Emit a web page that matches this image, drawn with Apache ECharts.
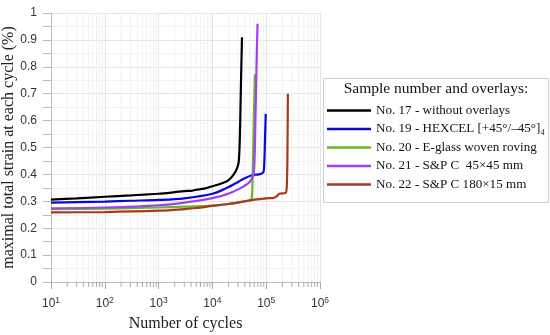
<!DOCTYPE html>
<html>
<head>
<meta charset="utf-8">
<script src="https://cdn.jsdelivr.net/npm/echarts@6/dist/echarts.min.js"></script>
<style>html,body{margin:0;padding:0;background:#fff}#c{width:550px;height:335px}</style>
</head>
<body>
<div id="c"></div>
<script>
// ---- data ----
const seriesNames = [
  'No. 17 - without overlays',
  'No. 19 - HEXCEL [+45°/\u201345°]',
  'No. 20 - E-glass woven roving',
  'No. 21 - S&P C  45\u00d745 mm',
  'No. 22 - S&P C 180\u00d715 mm'
];
const cycles17 = [10, 30, 100, 300, 1000, 2000, 3000, 4000, 5000, 7000, 10000, 16000, 20000, 25000, 29000, 31000, 32500, 33500, 34500, 35500];
const strain17 = [0.306, 0.311, 0.317, 0.322, 0.328, 0.334, 0.338, 0.339, 0.343, 0.347, 0.356, 0.369, 0.379, 0.400, 0.425, 0.450, 0.550, 0.680, 0.800, 0.910];
const cycles19 = [10, 30, 100, 300, 1000, 3000, 10000, 19000, 30000, 38000, 56000, 73000, 88000, 92000, 95000, 98000];
const strain19 = [0.295, 0.297, 0.299, 0.302, 0.305, 0.311, 0.328, 0.351, 0.372, 0.384, 0.398, 0.400, 0.407, 0.440, 0.530, 0.625];
const cycles20 = [10, 100, 1000, 3000, 5000, 10000, 20000, 40000, 50000, 54000, 56000, 58000, 60000, 61500];
const strain20 = [0.271, 0.273, 0.277, 0.280, 0.281, 0.284, 0.290, 0.300, 0.305, 0.312, 0.400, 0.550, 0.680, 0.772];
const cycles21 = [10, 100, 1000, 3000, 10000, 22000, 45000, 56000, 60000, 63000, 66000, 69000];
const strain21 = [0.274, 0.277, 0.285, 0.295, 0.312, 0.332, 0.365, 0.390, 0.430, 0.600, 0.800, 0.960];
const cycles22 = [10, 100, 1000, 3000, 5000, 10000, 20000, 40000, 60000, 100000, 138000, 160000, 175000, 233000, 245000, 250000, 253000];
const strain22 = [0.259, 0.260, 0.265, 0.271, 0.275, 0.283, 0.290, 0.300, 0.306, 0.311, 0.313, 0.320, 0.328, 0.332, 0.400, 0.550, 0.700];
const seriesColors = ['#000000', '#0a0ad8', '#6cb821', '#a040f0', '#a8391a'];
const xTickExponents = [1, 2, 3, 4, 5, 6];
const yTicks = [0, 0.1, 0.2, 0.3, 0.4, 0.5, 0.6, 0.7, 0.8, 0.9, 1];
const legendTitle = 'Sample number and overlays:';
const xName = 'Number of cycles';
const yName = 'maximal total strain at each cycle (%)';

// minor log-grid positions (2..9 x 10^n) — axis decoration only
const minorX = [];
for (let e = 1; e < 6; e++) for (let k = 2; k <= 9; k++) minorX.push([k * Math.pow(10, e), 0]);

const allCycles = [cycles17, cycles19, cycles20, cycles21, cycles22];
const allStrain = [strain17, strain19, strain20, strain21, strain22];

const serif = 'Liberation Serif, Times New Roman, serif';
const sans = 'Liberation Sans, Arial, sans-serif';

const lineSeries = seriesNames.map((n, i) => ({
  name: n,
  type: 'line',
  data: allCycles[i].map((c, j) => [c, allStrain[i][j]]),
  showSymbol: false,
  smooth: 0.3,
  lineStyle: { width: 2.2, color: seriesColors[i] },
  itemStyle: { color: seriesColors[i] },
  z: 3,
  animation: false
}));

const chart = echarts.init(document.getElementById('c'), null, { renderer: 'canvas' });
chart.setOption({
  animation: false,
  backgroundColor: '#fff',
  grid: { left: 51, right: 230, top: 13, bottom: 53, containLabel: false, outerBoundsMode: 'none' },
  title: {
    text: legendTitle, left: 436, top: 81, textAlign: 'center', padding: 0,
    textStyle: { fontFamily: serif, fontSize: 15.5, fontWeight: 'normal', color: '#111' }
  },
  graphic: [{
    type: 'rect', left: 323, top: 78, z: -10,
    shape: { width: 225, height: 124 },
    style: { fill: '#fff', stroke: '#cfcfcf', lineWidth: 1 }
  }],
  legend: {
    data: seriesNames,
    orient: 'vertical', left: 327, top: 103,
    icon: 'rect', itemWidth: 44, itemHeight: 2.5, itemGap: 3.5,
    padding: 0,
    formatter: (name) => name.indexOf('HEXCEL') >= 0 ? name + '{sub|4}' : name,
    textStyle: {
      fontFamily: serif, fontSize: 13.1, color: '#111', lineHeight: 15,
      rich: { sub: { fontFamily: serif, fontSize: 8, lineHeight: 8, verticalAlign: 'bottom', color: '#111' } }
    }
  },
  xAxis: {
    type: 'log', logBase: 10, min: 10, max: 1000000,
    name: xName, nameLocation: 'middle', nameGap: 34,
    nameTextStyle: { fontFamily: serif, fontSize: 16, color: '#222' },
    axisLine: { show: true, lineStyle: { color: '#bdbdbd' } },
    axisTick: { show: true, length: 7, lineStyle: { color: '#aaa' } },
    splitLine: { show: true, lineStyle: { color: '#e4e4e4' } },
    axisLabel: {
      margin: 14,
      formatter: (v) => {
        const e = Math.round(Math.log10(v));
        return xTickExponents.indexOf(e) >= 0 ? '{b|10}{s|' + e + '}' : '';
      },
      rich: {
        b: { fontFamily: sans, fontSize: 12, lineHeight: 16, color: '#333' },
        s: { fontFamily: sans, fontSize: 8.5, lineHeight: 8, verticalAlign: 'top', color: '#333' }
      }
    }
  },
  yAxis: {
    type: 'value', min: 0, max: 1, interval: 0.1,
    name: yName, nameLocation: 'middle', nameGap: 26,
    nameTextStyle: { fontFamily: serif, fontSize: 16, color: '#222' },
    axisLine: { show: true, lineStyle: { color: '#bdbdbd' } },
    axisTick: { show: true, length: 8, lineStyle: { color: '#bbb' } },
    minorTick: { show: true, splitNumber: 2, length: 8, lineStyle: { color: '#bbb' } },
    splitLine: { show: true, lineStyle: { color: '#e4e4e4' } },
    minorSplitLine: { show: true, lineStyle: { color: '#f3f3f3' } },
    axisLabel: {
      margin: 14, fontFamily: sans, fontSize: 12, color: '#333',
      formatter: (v) => {
        const t = yTicks.find(t => Math.abs(t - v) < 1e-9);
        return t === undefined ? '' : String(t);
      }
    }
  },
  series: [{
    type: 'custom',
    name: 'minorgrid',
    silent: true,
    clip: false,
    z: 1,
    data: minorX,
    encode: { x: 0, y: 1 },
    renderItem: (params, api) => {
      const v = api.value(0);
      const b = api.coord([v, 0]);
      const t = api.coord([v, 1]);
      return {
        type: 'group',
        children: [
          { type: 'line', shape: { x1: b[0], y1: t[1], x2: b[0], y2: b[1] }, style: { stroke: '#f1f1f1', lineWidth: 1 } },
          { type: 'line', shape: { x1: b[0], y1: b[1], x2: b[0], y2: b[1] + 5 }, style: { stroke: '#aaa', lineWidth: 1 } }
        ]
      };
    }
  }].concat(lineSeries)
});
</script>
</body>
</html>
